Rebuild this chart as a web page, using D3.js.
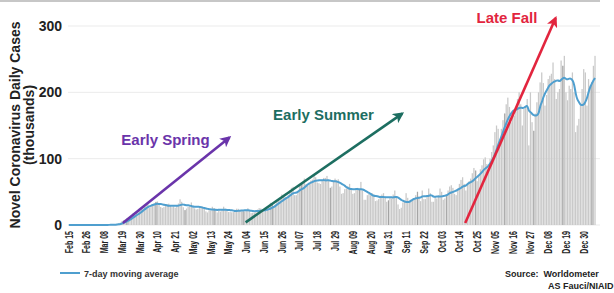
<!DOCTYPE html>
<html>
<head>
<meta charset="utf-8">
<script src="https://cdn.jsdelivr.net/npm/d3@7/dist/d3.min.js"></script>
<style>
  html, body { margin: 0; padding: 0; background: #fff; }
  svg { display: block; font-family: "Liberation Sans", Arial, sans-serif; }
</style>
</head>
<body>
<svg id="chart" width="614" height="293"></svg>
<script>
// ---- Data (daily new cases, thousands), starting Feb 15 2020 ----
const startDate = "2020-02-15";
const feb = [0,0,0,0,0,0,0,0,0,0,0,0,0,0,0];
const mar = [0,0,0,0.1,0.1,0.1,0.1,0.1,0.2,0.3,0.4,0.5,0.6,0.8,0.9,1.8,2.4,3.4,5.6,7.3,8.0,9.6,11.2,11.0,13.8,18.0,19.1,20.4,20.1,21.4,25.9];
const apr = [27.3,30.4,32.1,34.0,25.7,30.0,31.6,32.6,34.8,35.5,30.1,27.2,25.8,27.0,29.6,31.4,32.2,29.0,26.9,28.0,26.0,29.0,32.4,38.8,35.0,26.8,22.4,24.8,27.5,29.4];
const may = [34.0,29.0,25.1,23.4,24.1,25.5,28.4,27.4,24.9,20.6,18.9,22.3,21.7,27.5,25.2,24.0,18.9,22.6,20.3,22.5,27.6,24.6,22.3,19.5,19.6,19.1,19.5,22.8,24.6,24.4,21.2];
const jun = [20.7,20.7,20.5,22.0,25.3,22.6,17.9,18.5,18.6,21.7,23.3,25.5,25.0,19.5,19.5,23.5,24.9,28.5,33.5,33.0,27.9,31.1,35.4,38.6,40.4,46.0,43.0,42.1,40.6,45.1];
const jul = [52.6,56.0,57.6,45.0,45.0,50.4,60.0,62.0,63.8,70.0,62.0,59.0,63.0,67.0,68.5,76.0,72.0,64.0,63.0,61.8,67.0,71.0,71.0,74.0,67.0,56.0,58.0,65.0,70.0,68.0,69.0];
const aug = [58,47,48,54,55,58,62,54,47,48,55,56,53,65,52,38,38,45,47,45,48,46,36,37,39,44,46,48,43,35,37];
const sep = [42,40,46,52,43,31,24,26,34,37,48,41,34,37,39,39,45,50,43,36,52,39,39,45,55,48,35,35,42,40];
const oct = [45,55,50,38,40,45,52,58,60,56,47,45,55,62,68,72,62,52,62,66,70,78,86,82,66,75,84,90,99,102,92];
const nov = [85,100,110,120,140,150,145,128,145,158,168,182,192,178,155,172,165,175,190,200,182,150,175,178,190,120,200,155,142,168];
const dec = [185,200,215,230,214,180,196,220,225,228,245,220,190,200,205,248,240,255,200,188,210,205,230,200,140,150,160,180,205,235,230];
const jan = [180,220,210,215,240,255];

const yTicks = [0, 100, 200, 300];
const xTickStep = 11; // days between labelled dates
const gridStep = 18;  // days between darker vertical guide lines

// annotation arrows, in data space (date, thousands)
const arrowLabels = ["Early Spring", "Early Summer", "Late Fall"];
const arrowColors = ["#6a34aa", "#1d6e61", "#e2253e"];
const arrowFrom = [["2020-03-20", 3], ["2020-06-04", 4], ["2020-10-18", 3]];
const arrowTo   = [["2020-05-25", 132], ["2020-09-09", 168], ["2020-12-13", 312]];
const labelAt   = [["2020-03-19", 121], ["2020-06-21", 158], ["2020-10-25", 305]];

// ---- Build ----
const daily = [].concat(feb, mar, apr, may, jun, jul, aug, sep, oct, nov, dec, jan);
const t0 = new Date(startDate + "T00:00:00Z");
const data = daily.map((v, i) => ({ date: d3.utcDay.offset(t0, i), value: v }));
data.forEach((d, i) => {
  const w = data.slice(Math.max(0, i - 6), i + 1);
  d.ma = d3.mean(w, e => e.value);
});

const svg = d3.select("#chart");
const x = d3.scaleUtc()
  .domain([t0, d3.utcDay.offset(t0, data.length)])
  .range([68, 596]);
const y = d3.scaleLinear().domain([0, 300]).range([225, 26]);
const dayW = x(d3.utcDay.offset(t0, 1)) - x(t0);
const parse = s => new Date(s + "T00:00:00Z");

// top rule
svg.append("line").attr("x1", 0).attr("x2", 600).attr("y1", 1).attr("y2", 1)
  .attr("stroke", "#b5b5b5").attr("stroke-width", 1.5);

// horizontal gridlines
svg.append("g").selectAll("line").data(yTicks).join("line")
  .attr("x1", 68).attr("x2", 600)
  .attr("y1", d => y(d)).attr("y2", d => y(d))
  .attr("stroke", "#ebebeb").attr("stroke-width", 1);

// y tick labels
svg.append("g").selectAll("text").data(yTicks).join("text")
  .attr("x", 62).attr("y", d => y(d)).attr("dy", "0.36em")
  .attr("text-anchor", "end").attr("font-size", 14).attr("font-weight", "bold")
  .attr("fill", "#222").text(d => d);

// y axis title
const yt = svg.append("text").attr("transform", "translate(20,125) rotate(-90)")
  .attr("text-anchor", "middle").attr("font-size", 14).attr("font-weight", "bold").attr("fill", "#222");
yt.append("tspan").attr("x", 0).attr("y", 0).text("Novel Coronavirus Daily Cases");
yt.append("tspan").attr("x", 0).attr("y", 14).text("(thousands)");

// bars
svg.append("g").selectAll("rect").data(data).join("rect")
  .attr("x", d => x(d.date))
  .attr("width", Math.max(0.5, dayW - 0.35))
  .attr("y", d => y(d.value))
  .attr("height", d => y(0) - y(d.value))
  .attr("fill", "#c9c9c9");

// darker vertical guides inside the bars
const guides = data.filter((d, i) => i % gridStep === 0 && i > 0);
svg.append("g").selectAll("line").data(guides).join("line")
  .attr("x1", d => x(d.date) + dayW / 2).attr("x2", d => x(d.date) + dayW / 2)
  .attr("y1", y(0)).attr("y2", d => y(d.value))
  .attr("stroke", "#a3a3a3").attr("stroke-width", 1);

// moving average line
svg.append("path").datum(data)
  .attr("fill", "none").attr("stroke", "#4f9fcf").attr("stroke-width", 2)
  .attr("d", d3.line().curve(d3.curveBasis)
    .x(d => x(d.date) + dayW / 2).y(d => y(d.ma)));

// x tick labels
const tickDates = d3.range(0, data.length - 4, xTickStep).map(i => d3.utcDay.offset(t0, i));
const fmt = d3.utcFormat("%b %d");
svg.append("g").selectAll("text").data(tickDates).join("text")
  .attr("transform", d => `translate(${x(d) + dayW / 2},231) rotate(-90) scale(0.67,1)`)
  .attr("text-anchor", "end").attr("dy", "0.36em")
  .attr("font-size", 10.5).attr("font-weight", "bold").attr("fill", "#222")
  .text(d => fmt(d));

// arrows
const defs = svg.append("defs");
arrowColors.forEach((c, i) => {
  defs.append("marker").attr("id", "ah" + i)
    .attr("viewBox", "0 0 10 10").attr("refX", 8).attr("refY", 5)
    .attr("markerWidth", 11).attr("markerHeight", 11)
    .attr("markerUnits", "userSpaceOnUse").attr("orient", "auto")
    .append("path").attr("d", "M0,0 L10,5 L0,10 L2.5,5 Z").attr("fill", c);
});
arrowLabels.forEach((lab, i) => {
  svg.append("line")
    .attr("x1", x(parse(arrowFrom[i][0]))).attr("y1", y(arrowFrom[i][1]))
    .attr("x2", x(parse(arrowTo[i][0]))).attr("y2", y(arrowTo[i][1]))
    .attr("stroke", arrowColors[i]).attr("stroke-width", 2.6)
    .attr("marker-end", `url(#ah${i})`);
  svg.append("text")
    .attr("x", x(parse(labelAt[i][0]))).attr("y", y(labelAt[i][1]))
    .attr("font-size", 15).attr("font-weight", "bold").attr("fill", arrowColors[i])
    .text(lab);
});

// legend
svg.append("line").attr("x1", 60).attr("x2", 80).attr("y1", 273).attr("y2", 273)
  .attr("stroke", "#4f9fcf").attr("stroke-width", 2);
svg.append("text").attr("x", 84).attr("y", 276.5)
  .attr("font-size", 9).attr("font-weight", "bold").attr("fill", "#333")
  .text("7-day moving average");

// source
svg.append("text").attr("x", 505).attr("y", 276.5)
  .attr("font-size", 9).attr("font-weight", "bold").attr("fill", "#222")
  .attr("xml:space", "preserve")
  .text("Source:  Worldometer");
svg.append("text").attr("x", 548).attr("y", 289)
  .attr("font-size", 9).attr("font-weight", "bold").attr("fill", "#222")
  .text("AS Fauci/NIAID");
</script>
</body>
</html>
